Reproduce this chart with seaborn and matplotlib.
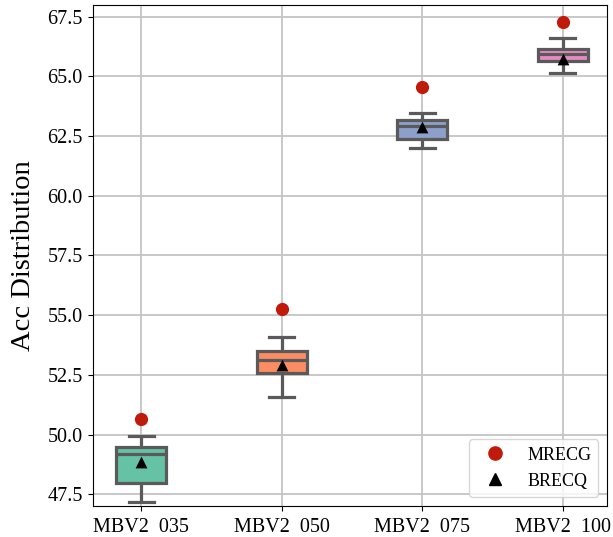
import pandas as pd
import numpy as np
import matplotlib
matplotlib.use("Agg")
import matplotlib.pyplot as plt
import seaborn as sns
from matplotlib.lines import Line2D

# model names on the x axis (the underscore does not show in the picture)
models = ["MBV2  035", "MBV2  050", "MBV2  075", "MBV2  100"]
# five-number summaries: low whisker, q1, median, q3, high whisker
acc_035 = [47.19, 47.96, 49.21, 49.48, 49.93]
acc_050 = [51.58, 52.60, 53.14, 53.51, 54.10]
acc_075 = [61.99, 62.39, 62.94, 63.16, 63.47]
acc_100 = [65.15, 65.63, 65.93, 66.14, 66.62]
# single results drawn as markers
mrecg = [50.67, 55.25, 64.56, 67.27]
brecq = [48.86, 52.92, 62.88, 65.72]
yticks = [47.5, 50.0, 52.5, 55.0, 57.5, 60.0, 62.5, 65.0, 67.5]

df = pd.DataFrame({
    "model": np.repeat(models, 5),
    "acc": acc_035 + acc_050 + acc_075 + acc_100,
})
pts = pd.DataFrame({"model": models, "MRECG": mrecg, "BRECQ": brecq})

plt.rcParams["font.family"] = ["Liberation Serif", "DejaVu Serif"]

fig, ax = plt.subplots(figsize=(6.13, 5.37), dpi=100)
fig.subplots_adjust(left=0.151, right=0.991, bottom=0.058, top=0.99)

sns.boxplot(data=df, x="model", y="acc", hue="model", palette="Set2",
            order=models, width=0.356, linewidth=2.3, linecolor="#5a5a5a",
            saturation=1, whis=3.0, legend=False, ax=ax)
sns.stripplot(data=pts, x="model", y="MRECG", order=models, jitter=False,
              color="#c01a0a", size=9.5, marker="o", linewidth=0, ax=ax, zorder=5)
sns.stripplot(data=pts, x="model", y="BRECQ", order=models, jitter=False,
              color="black", size=8.5, marker="^", linewidth=0, ax=ax, zorder=5)

ax.set_xlim(-0.346, 3.319)
ax.set_ylim(47.02, 67.97)
ax.set_yticks(yticks)
ax.set_yticklabels([f"{t:.1f}" for t in yticks])
ax.tick_params(labelsize=14.5)
ax.tick_params(axis="x", pad=5)
ax.set_xlabel("")
ax.set_ylabel("Acc Distribution", fontsize=20.5, labelpad=8)
ax.grid(True, color="#c4c4c4", linewidth=1.3)
ax.set_axisbelow(True)
for s in ax.spines.values():
    s.set_color("black")

handles = [
    Line2D([], [], linestyle="none", marker="o", color="#c01a0a", markersize=9.5, label="MRECG"),
    Line2D([], [], linestyle="none", marker="^", color="black", markersize=8.5, label="BRECQ"),
]
ax.legend(handles=handles, loc="lower right", fontsize=13)

fig.savefig("out.png", dpi=100)
